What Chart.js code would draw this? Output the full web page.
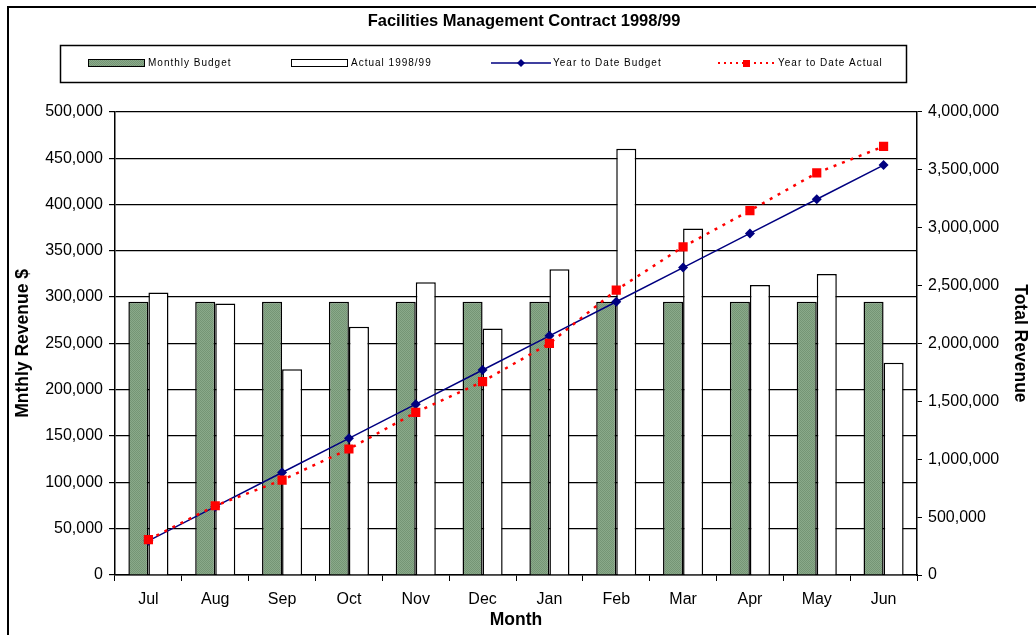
<!DOCTYPE html>
<html>
<head>
<meta charset="utf-8">
<script src="https://cdn.jsdelivr.net/npm/chart.js@4"></script>
<style>
  html, body { margin: 0; padding: 0; background: #fff; }
  #wrap { width: 1036px; height: 635px; position: relative; }
</style>
</head>
<body>
<div id="wrap"><canvas id="chart" width="1036" height="635"></canvas></div>
<script>
// ---------- DATA ----------
const months = ["Jul", "Aug", "Sep", "Oct", "Nov", "Dec", "Jan", "Feb", "Mar", "Apr", "May", "Jun"];
const monthlyBudget = [295000, 295000, 295000, 295000, 295000, 295000, 295000, 295000, 295000, 295000, 295000, 295000];
const actual = [305000, 293000, 222000, 268000, 316000, 266000, 330000, 460000, 374000, 313000, 325000, 229000];
const ytdBudget = [295000, 590000, 885000, 1180000, 1475000, 1770000, 2065000, 2360000, 2655000, 2950000, 3245000, 3540000];
const ytdActual = [305000, 598000, 820000, 1088000, 1404000, 1670000, 2000000, 2460000, 2834000, 3147000, 3472000, 3701000];

const FONT = "'Liberation Sans', Arial, sans-serif";

// checkered green fill like the old Excel pattern
function greenPattern() {
  const c = document.createElement("canvas");
  c.width = 2; c.height = 2;
  const g = c.getContext("2d");
  g.fillStyle = "#8aaa8a"; g.fillRect(0, 0, 2, 2);
  g.fillStyle = "#759575"; g.fillRect(0, 0, 1, 1); g.fillRect(1, 1, 1, 1);
  return g.createPattern(c, "repeat");
}
const green = greenPattern();

// ---------- FRAME + LEGEND BOX ----------
const framePlugin = {
  id: "frame",
  afterDraw(chart) {
    const ctx = chart.ctx;
    const ds = chart.data.datasets;
    const byId = id => ds.find(d => d.id === id);
    ctx.save();
    ctx.strokeStyle = "#000";
    ctx.lineWidth = 2;
    ctx.beginPath();
    ctx.moveTo(8, 640); ctx.lineTo(8, 7); ctx.lineTo(1040, 7);
    ctx.stroke();

    // legend box
    ctx.lineWidth = 1.5;
    ctx.strokeRect(60.5, 45.5, 846, 37);

    const y = 63;
    ctx.font = "10px " + FONT;
    if ("letterSpacing" in ctx) ctx.letterSpacing = "1px";
    ctx.textBaseline = "middle";

    // Monthly Budget
    ctx.fillStyle = green;
    ctx.fillRect(88, y - 3, 56, 7);
    ctx.strokeStyle = "#000"; ctx.lineWidth = 1;
    ctx.strokeRect(88.5, y - 3.5, 56, 7);
    ctx.fillStyle = "#000";
    ctx.fillText(byId("mb").label, 148, y);

    // Actual
    ctx.fillStyle = "#fff";
    ctx.fillRect(291, y - 3, 56, 7);
    ctx.strokeRect(291.5, y - 3.5, 56, 7);
    ctx.fillStyle = "#000";
    ctx.fillText(byId("ac").label, 351, y);

    // YTD Budget
    ctx.strokeStyle = "#000080"; ctx.lineWidth = 1.5;
    ctx.beginPath(); ctx.moveTo(491, y); ctx.lineTo(551, y); ctx.stroke();
    ctx.fillStyle = "#000080";
    ctx.beginPath();
    ctx.moveTo(521, y - 4); ctx.lineTo(525, y); ctx.lineTo(521, y + 4); ctx.lineTo(517, y);
    ctx.closePath(); ctx.fill();
    ctx.fillStyle = "#000";
    ctx.fillText(byId("yb").label, 553, y);

    // YTD Actual
    ctx.strokeStyle = "#ff0000"; ctx.lineWidth = 2;
    ctx.setLineDash([2, 4]);
    ctx.beginPath(); ctx.moveTo(718, y); ctx.lineTo(776, y); ctx.stroke();
    ctx.setLineDash([]);
    ctx.fillStyle = "#ff0000";
    ctx.fillRect(743, y - 3, 7, 7);
    ctx.fillStyle = "#000";
    ctx.fillText(byId("ya").label, 778, y);
    ctx.restore();
  }
};

// ---------- CHART ----------
new Chart(document.getElementById("chart").getContext("2d"), {
  data: {
    labels: months,
    datasets: [
      {
        id: "ya", type: "line", label: "Year to Date Actual", data: ytdActual, yAxisID: "y1",
        borderColor: "#ff0000", backgroundColor: "#ff0000", borderWidth: 2.5, borderDash: [3, 6],
        pointStyle: "rect", pointRadius: 6.5, pointBorderWidth: 0, tension: 0, order: 0
      },
      {
        id: "yb", type: "line", label: "Year to Date Budget", data: ytdBudget, yAxisID: "y1",
        borderColor: "#000080", backgroundColor: "#000080", borderWidth: 1.5,
        pointStyle: "rectRot", pointRadius: 5, pointBorderWidth: 0, tension: 0, order: 1
      },
      {
        id: "mb", type: "bar", label: "Monthly Budget", data: monthlyBudget, yAxisID: "y",
        backgroundColor: green, borderColor: "#000", borderWidth: 1.5,
        barPercentage: 1.0, categoryPercentage: 0.6, order: 2
      },
      {
        id: "ac", type: "bar", label: "Actual 1998/99", data: actual, yAxisID: "y",
        backgroundColor: "#fff", borderColor: "#000", borderWidth: 1.5,
        barPercentage: 1.0, categoryPercentage: 0.6, order: 3
      }
    ]
  },
  options: {
    responsive: false,
    animation: false,
    layout: { padding: { left: 12, right: 0, top: 0, bottom: 4 } },
    plugins: {
      legend: { display: false },
      tooltip: { enabled: false },
      title: {
        display: true,
        text: "Facilities Management Contract 1998/99",
        color: "#000",
        font: { family: FONT, size: 16.5, weight: "bold" },
        padding: { top: 12, bottom: 80 }
      }
    },
    scales: {
      x: {
        offset: true,
        grid: { display: true, drawOnChartArea: false, color: "#000", tickLength: 6, offset: true },
        border: { color: "#000", width: 1.5 },
        ticks: { color: "#000", font: { family: FONT, size: 16 }, padding: 9, maxRotation: 0 },
        title: { display: true, text: "Month", color: "#000", font: { family: FONT, size: 17.5, weight: "bold" }, padding: { top: 0, bottom: 0 } },
        afterFit(s) { s.height = 56; }
      },
      y: {
        position: "left",
        min: 0, max: 500000,
        grid: { color: "#000", lineWidth: 1.2, tickLength: 6 },
        border: { color: "#000", width: 1.5 },
        ticks: {
          stepSize: 50000, color: "#000", font: { family: FONT, size: 16 }, padding: 6,
          callback: v => v.toLocaleString("en-US")
        },
        title: { display: true, text: "Mnthly Revenue $", color: "#000", font: { family: FONT, size: 17.5, weight: "bold" }, padding: { top: 1, bottom: 6 } },
        afterFit(s) { s.width = 103; }
      },
      y1: {
        position: "right",
        min: 0, max: 4000000,
        grid: { drawOnChartArea: false, color: "#000", tickLength: 5 },
        border: { color: "#000", width: 1.5 },
        ticks: {
          stepSize: 500000, color: "#000", font: { family: FONT, size: 16 }, padding: 6,
          callback: v => v.toLocaleString("en-US")
        },
        title: { display: true, text: "Total Revenue", color: "#000", font: { family: FONT, size: 17.5, weight: "bold" }, padding: { top: 6, bottom: 2 } },
        afterFit(s) { s.width = 119; }
      }
    }
  },
  plugins: [framePlugin]
});
</script>
</body>
</html>
